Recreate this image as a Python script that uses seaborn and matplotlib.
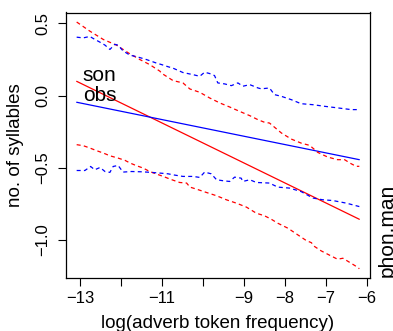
import numpy as np
import pandas as pd
import matplotlib
matplotlib.use("Agg")
import matplotlib.pyplot as plt
import seaborn as sns

# ---- data ----
fit_x = [-13.08, -6.19]
fit_red = [0.099, -0.857]
fit_blue = [-0.046, -0.444]

blue_up_x = [-13.08, -12.92, -12.76, -12.64, -12.51, -12.39, -12.27, -12.15, -12.07, -11.95,
             -11.78, -11.62, -11.38, -11.13, -11.01, -10.85, -10.73, -10.49, -10.24, -10.08,
             -9.96, -9.84, -9.72, -9.64, -9.47, -9.31, -9.15, -9.03, -8.86, -8.66, -8.58,
             -8.38, -8.26, -8.09, -7.85, -7.61, -7.32, -7.04, -6.72, -6.39, -6.19]
blue_up_y = [0.405, 0.40, 0.41, 0.39, 0.37, 0.35, 0.32, 0.355, 0.35, 0.31,
             0.28, 0.27, 0.25, 0.225, 0.215, 0.20, 0.19, 0.16, 0.145, 0.134,
             0.162, 0.153, 0.139, 0.088, 0.081, 0.069, 0.088, 0.065, 0.076, 0.053, 0.047,
             0.053, 0.007, -0.005, -0.028, -0.056, -0.063, -0.074, -0.085, -0.097, -0.097]

red_up_x = [-13.08, -12.76, -12.43, -12.11, -11.82, -11.54, -11.30, -11.05, -11.01, -10.73,
            -10.49, -10.32, -10.08, -9.84, -9.59, -9.35, -9.11, -8.86, -8.66, -8.50, -8.38,
            -8.09, -7.85, -7.61, -7.40, -7.20, -6.96, -6.72, -6.55, -6.39, -6.27, -6.19]
red_up_y = [0.51, 0.447, 0.389, 0.35, 0.296, 0.25, 0.215, 0.169, 0.155, 0.104,
            0.088, 0.046, 0.023, -0.016, -0.051, -0.079, -0.109, -0.139, -0.167, -0.185, -0.19,
            -0.259, -0.301, -0.329, -0.345, -0.394, -0.426, -0.444, -0.444, -0.472, -0.49, -0.49]

blue_lo_x = [-13.08, -12.88, -12.74, -12.64, -12.51, -12.39, -12.27, -12.19, -12.07, -11.95,
             -11.74, -11.50, -11.26, -11.05, -10.85, -10.73, -10.49, -10.24, -10.08, -9.96,
             -9.80, -9.67, -9.51, -9.35, -9.23, -9.07, -9.03, -8.86, -8.70, -8.38, -8.18,
             -7.89, -7.61, -7.32, -7.08, -6.84, -6.51, -6.19]
blue_lo_y = [-0.519, -0.519, -0.491, -0.514, -0.498, -0.526, -0.532, -0.491, -0.484, -0.530,
             -0.526, -0.528, -0.532, -0.537, -0.542, -0.549, -0.56, -0.56, -0.567, -0.530,
             -0.542, -0.583, -0.590, -0.595, -0.565, -0.572, -0.595, -0.583, -0.602, -0.606, -0.634,
             -0.641, -0.665, -0.710, -0.722, -0.727, -0.745, -0.769]

red_lo_x = [-13.08, -12.92, -12.76, -12.59, -12.43, -12.27, -12.07, -11.90, -11.78, -11.62,
            -11.46, -11.30, -11.13, -10.97, -10.81, -10.57, -10.40, -10.32, -10.16, -9.92,
            -9.67, -9.43, -9.19, -8.94, -8.70, -8.50, -8.34, -8.18, -7.93, -7.69, -7.48,
            -7.36, -7.28, -7.12, -6.88, -6.72, -6.59, -6.39, -6.23, -6.19]
red_lo_y = [-0.34, -0.347, -0.363, -0.382, -0.398, -0.417, -0.433, -0.449, -0.467, -0.486,
            -0.502, -0.526, -0.544, -0.56, -0.578, -0.602, -0.606, -0.634, -0.648, -0.671,
            -0.694, -0.722, -0.745, -0.773, -0.815, -0.833, -0.856, -0.884, -0.919, -0.965, -1.005,
            -1.019, -1.046, -1.076, -1.111, -1.134, -1.127, -1.162, -1.19, -1.20]

x_ticks = [-13, -12, -11, -10, -9, -8, -7, -6]
x_tick_labels = ["\u221213", "", "\u221211", "", "\u22129", "\u22128", "\u22127", "\u22126"]
y_ticks = [0.5, 0.0, -0.5, -1.0]
y_tick_labels = ["0.5", "0.0", "\u22120.5", "\u22121.0"]
legend_words = ["son", "obs"]
panel_label = "phon.man"
x_label = "log(adverb token frequency)"
y_label = "no. of syllables"

# ---- plotting ----
sns.set_style("white")
plt.rcParams["font.family"] = ["Liberation Sans", "DejaVu Sans"]
plt.rcParams["axes.unicode_minus"] = True
plt.rcParams["text.color"] = "black"
plt.rcParams["axes.labelcolor"] = "black"
plt.rcParams["xtick.color"] = "black"
plt.rcParams["ytick.color"] = "black"
plt.rcParams["axes.edgecolor"] = "black"

fig = plt.figure(figsize=(3.93, 3.31), dpi=100)
ax = fig.add_axes([66 / 393, 1 - 278 / 331, (370 - 66) / 393, (278 - 12.5) / 331])

RED = "#FF0000"
BLUE = "#0000FF"
dash = (0, (3.2, 2.6))

fit_df = pd.DataFrame({"x": fit_x, "red": fit_red, "blue": fit_blue})
sns.lineplot(data=fit_df, x="x", y="red", ax=ax, color=RED, linewidth=0.9, errorbar=None)
sns.lineplot(data=fit_df, x="x", y="blue", ax=ax, color=BLUE, linewidth=0.9, errorbar=None)

for xs, ys, col in [(red_up_x, red_up_y, RED), (red_lo_x, red_lo_y, RED),
                    (blue_up_x, blue_up_y, BLUE), (blue_lo_x, blue_lo_y, BLUE)]:
    df = pd.DataFrame({"x": xs, "y": ys})
    sns.lineplot(data=df, x="x", y="y", ax=ax, color=col, linewidth=0.9,
                 linestyle=dash, errorbar=None, sort=False)

ax.set_xlim(-13.34, -5.93)
ax.set_ylim(-1.264, 0.576)

ax.set_xticks(x_ticks)
ax.set_xticklabels(x_tick_labels, fontsize=12, color="black")
ax.set_yticks(y_ticks)
ax.set_yticklabels(y_tick_labels, fontsize=12, rotation=90, va="center", color="black")
ax.tick_params(axis="both", direction="out", length=5.5, width=0.8, color="black",
               labelcolor="black", bottom=True, left=True)
ax.tick_params(axis="x", pad=4)
ax.tick_params(axis="y", pad=6)

for s in ax.spines.values():
    s.set_visible(True)
    s.set_color("black")
    s.set_linewidth(0.9)

ax.set_xlabel(x_label, fontsize=13.5, labelpad=6, color="black")
ax.set_ylabel(y_label, fontsize=13.5, labelpad=8, color="black")

ax.text(-12.93, 0.099, legend_words[0], fontsize=15, va="baseline", ha="left", color="black")
ax.text(-12.93, -0.04, legend_words[1], fontsize=15, va="baseline", ha="left", color="black")

fig.text(387 / 393, 1 - 230 / 331, panel_label, rotation=90, fontsize=15,
         ha="center", va="center", color="black")

fig.savefig("out.png", dpi=100)
